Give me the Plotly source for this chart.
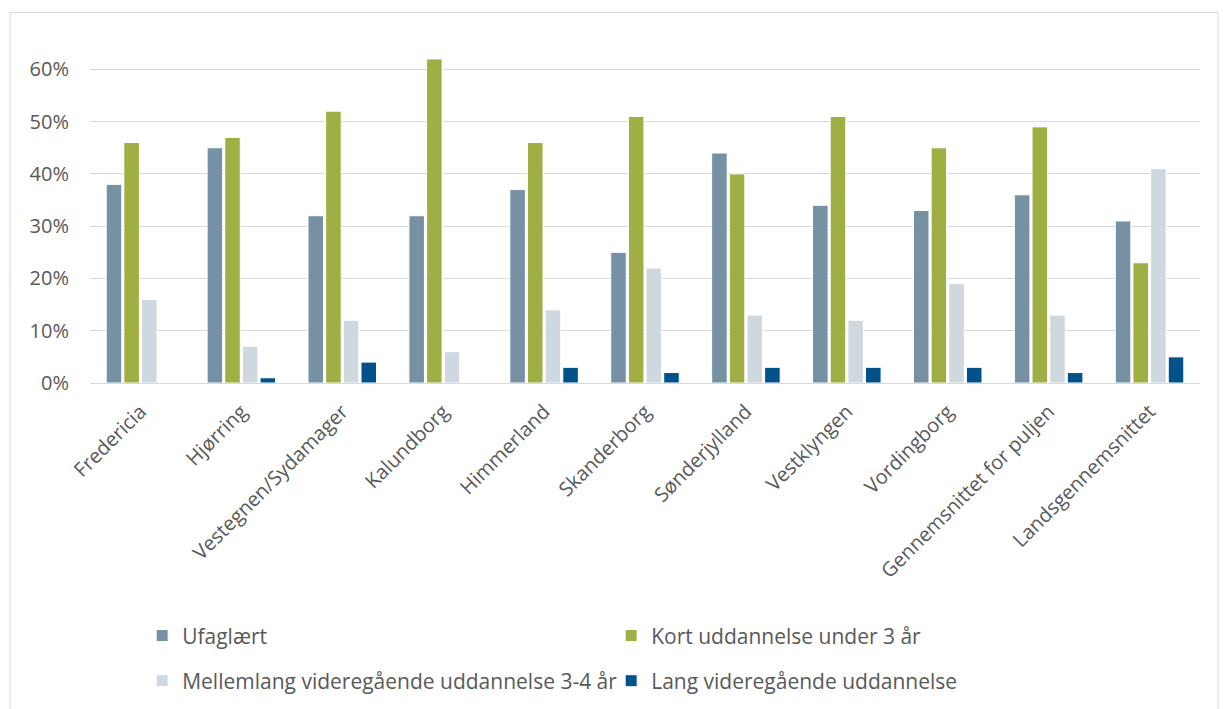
import plotly.graph_objects as go

categories = ["Fredericia", "Hjørring", "Vestegnen/Sydamager", "Kalundborg", "Himmerland",
              "Skanderborg", "Sønderjylland", "Vestklyngen", "Vordingborg",
              "Gennemsnittet for puljen", "Landsgennemsnittet"]
ufaglaert = [0.38, 0.45, 0.32, 0.32, 0.37, 0.25, 0.44, 0.34, 0.33, 0.36, 0.31]
kort = [0.46, 0.47, 0.52, 0.62, 0.46, 0.51, 0.40, 0.51, 0.45, 0.49, 0.23]
mellemlang = [0.16, 0.07, 0.12, 0.06, 0.14, 0.22, 0.13, 0.12, 0.19, 0.13, 0.41]
lang = [0.00, 0.01, 0.04, 0.00, 0.03, 0.02, 0.03, 0.03, 0.03, 0.02, 0.05]

series_names = ["Ufaglært", "Kort uddannelse under 3 år",
                "Mellemlang videregående uddannelse 3-4 år", "Lang videregående uddannelse"]
series_values = [ufaglaert, kort, mellemlang, lang]
colors = ["#7591A3", "#A0AF44", "#D0D8DF", "#005289"]
legend_ids = ["legend", "legend", "legend2", "legend2"]
y_ticks = [0, 0.1, 0.2, 0.3, 0.4, 0.5, 0.6]

fig = go.Figure()
for name, vals, col, lg in zip(series_names, series_values, colors, legend_ids):
    fig.add_trace(go.Bar(x=categories, y=vals, name=name, legend=lg,
                         marker=dict(color=col, line=dict(color="white", width=1))))

legend_common = dict(orientation="h", x=0.047, xanchor="left", yanchor="middle",
                     entrywidth=424, entrywidthmode="pixels",
                     font=dict(size=21, color="#595959"), traceorder="normal",
                     itemwidth=30, bgcolor="rgba(0,0,0,0)")

fig.update_layout(
    width=1223, height=709,
    barmode="group", bargap=0.3, bargroupgap=0.12,
    plot_bgcolor="white", paper_bgcolor="white",
    font=dict(family="Open Sans, sans-serif", size=16, color="#595959"),
    margin=dict(l=90, r=23, t=38, b=326, autoexpand=False),
    showlegend=True,
    legend=dict(y=-0.733, **legend_common),
    legend2=dict(y=-0.864, **legend_common),
    shapes=[dict(type="rect", xref="paper", yref="paper",
                 x0=-0.0721, x1=1.0162, y0=-1.2, y1=1.074,
                 line=dict(color="#D9D9D9", width=1), fillcolor="rgba(0,0,0,0)")],
)
fig.update_yaxes(range=[0, 0.66], tickvals=y_ticks, tickformat=".0%", automargin=False,
                 showgrid=True, gridcolor="#D9D9D9", gridwidth=1, zeroline=False,
                 tickfont=dict(size=20, color="#595959"), ticks="", ticklabelstandoff=20)
fig.update_xaxes(tickangle=-45, showline=True, linecolor="#D9D9D9", linewidth=1,
                 automargin=False,
                 tickfont=dict(size=20, color="#595959"), ticks="", ticklabelstandoff=8)

fig.write_html("out.html")
